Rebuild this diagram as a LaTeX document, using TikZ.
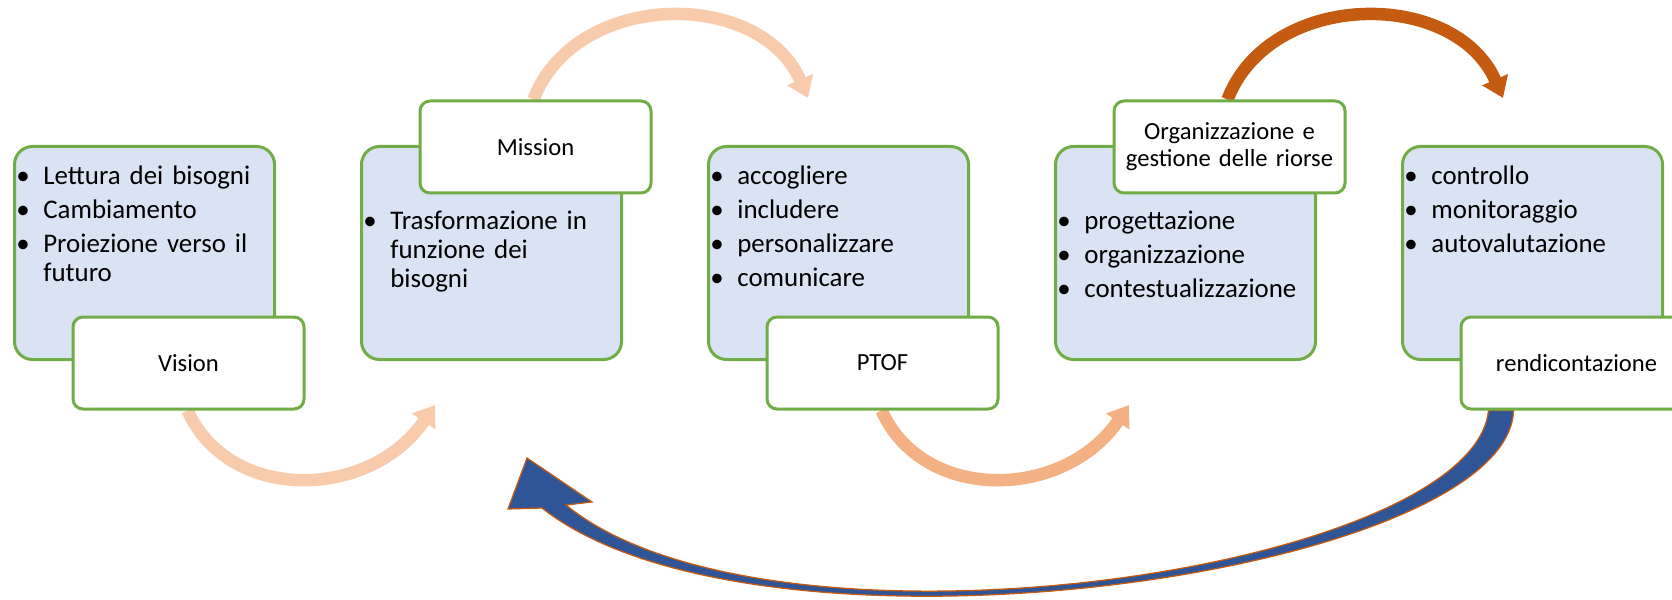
\documentclass[tikz,border=0pt]{standalone}
\usepackage{fontspec}
\setmainfont{Carlito}
\usepackage{xcolor}
\usepackage{tikz}
\usetikzlibrary{arrows.meta,positioning,backgrounds}

\definecolor{grn}{HTML}{70AD47}
\definecolor{paleblue}{HTML}{DAE3F3}
\definecolor{peach}{HTML}{F8CBAD}
\definecolor{apricot}{HTML}{F4B183}
\definecolor{rust}{HTML}{C55A11}
\definecolor{backblue}{HTML}{2F5597}

% one bullet line with hanging indent
\newcommand{\voce}[1]{\par\rightskip=0pt plus 1fil\parfillskip=0pt plus 1fil\hangindent=5.4mm\hangafter=1\noindent\strut\makebox[5.4mm][l]{\textbullet}#1\par\vspace{1mm}}

\begin{document}
\begin{tikzpicture}[x=0.2mm, y=-0.2mm,
    panel/.style={rectangle, draw=grn, fill=paleblue, line width=0.6mm, rounded corners=3.6mm, minimum width=52mm, minimum height=42.6mm, inner sep=0pt},
    tag/.style={rectangle, draw=grn, fill=white, line width=0.6mm, rounded corners=2mm, minimum width=46.2mm, minimum height=18.4mm, text width=44mm, align=center, inner sep=0pt, anchor=north west, font=\fontsize{14}{15.5}\selectfont},
    items/.style={anchor=north west, text width=52mm, inner sep=0pt, font=\fontsize{15.3}{16.5}\selectfont},
    flow/.style={line width=2.5mm, -{Triangle[width=5.4mm,length=4mm]}}]

    \useasboundingbox (0,0) rectangle (1672,600);

    % the five blocks
    \node[panel, anchor=north west] (p1) at (13,145) {};
    \node[panel, right=16.8mm of p1] (p2) {};
    \node[panel, right=16.8mm of p2] (p3) {};
    \node[panel, right=16.8mm of p3] (p4) {};
    \node[panel, right=16.8mm of p4] (p5) {};

    \node[items] (t1) at ([xshift=0.6mm, yshift=-2.0mm]p1.north west) {\voce{Lettura dei bisogni}\voce{Cambiamento}\voce{Proiezione verso il\newline futuro}};
    \node[items] (t2) at ([xshift=0.6mm, yshift=-11.0mm]p2.north west) {\voce{Trasformazione in\newline funzione dei\newline bisogni}};
    \node[items] (t3) at ([xshift=0.6mm, yshift=-2.0mm]p3.north west) {\voce{accogliere}\voce{includere}\voce{personalizzare}\voce{comunicare}};
    \node[items] (t4) at ([xshift=0.6mm, yshift=-11.0mm]p4.north west) {\voce{progettazione}\voce{organizzazione}\voce{contestualizzazione}};
    \node[items] (t5) at ([xshift=0.6mm, yshift=-2.0mm]p5.north west) {\voce{controllo}\voce{monitoraggio}\voce{autovalutazione}};

    % labels
    \node[tag] (vision) at ([xshift=11.7mm, yshift=9.1mm]p1.south west) {Vision};
    \node[tag] (mission) at ([xshift=11.7mm, yshift=9.1mm]p2.north west) {Mission};
    \node[tag] (ptof) at ([xshift=11.7mm, yshift=9.1mm]p3.south west) {PTOF};
    \node[tag] (orga) at ([xshift=11.7mm, yshift=9.1mm]p4.north west) {Organizzazione e\\gestione delle riorse};
    \node[tag] (rend) at ([xshift=11.7mm, yshift=9.1mm]p5.south west) {rendicontazione};

    \coordinate (m1) at (435,405);
    \coordinate (m2) at (808,98);
    \coordinate (m3) at (1129,405);
    \coordinate (m4) at (1503,98);
    \coordinate (back) at (527,458);

    \begin{scope}[on background layer]
        \draw[flow, peach] ([xshift=23.2mm]vision.south west) .. controls +(42,93) and +(-65,95) .. (m1);
        \draw[flow, peach] ([xshift=23mm]mission.north west) .. controls +(42,-110) and +(-48,-110) .. (m2);
        \draw[flow, apricot] ([xshift=23.2mm]ptof.south west) .. controls +(42,93) and +(-65,95) .. (m3);
        \draw[flow, rust] ([xshift=23mm]orga.north west) .. controls +(42,-110) and +(-48,-110) .. (m4);
        % return arrow
        \fill[backblue, draw=rust, line width=0.25mm] ([xshift=10.8mm]rend.south west) .. controls (1508,575) and (760,680) .. (542,508) -- (508,509) -- (back) -- (592,502) -- (566,505) .. controls (770,672) and (1472,572) .. ([xshift=5.8mm]rend.south west) -- cycle;
    \end{scope}

\end{tikzpicture}
\end{document}
